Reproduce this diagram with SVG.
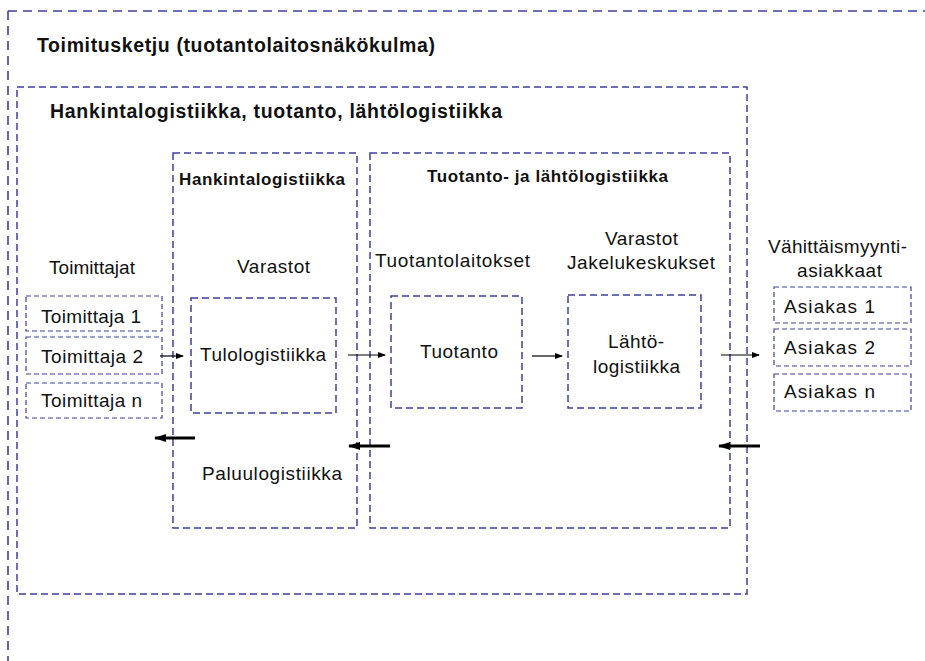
<svg xmlns="http://www.w3.org/2000/svg" width="925" height="661" viewBox="0 0 925 661">
  <style>
    .frame { fill: none; stroke: #3f3f9f; stroke-width: 1.6; stroke-dasharray: 9 6; }
    .box { fill: none; stroke: #3f3f9f; stroke-width: 1.5; stroke-dasharray: 7 4; }
    .small { fill: none; stroke: #3f3f9f; stroke-width: 1.2; stroke-dasharray: 5 3; }
    text { font-family: "Liberation Sans", Arial, sans-serif; fill: #111; }
    .h1 { font-size: 19.5px; font-weight: bold; }
    .h2 { font-size: 17px; font-weight: bold; }
    .lbl { font-size: 19px; }
    .thin { stroke: #000; stroke-width: 1.2; fill: none; }
    .thick { stroke: #000; stroke-width: 3; fill: none; }
  </style>
  <defs>
    <marker id="ah" markerWidth="8" markerHeight="8" refX="7" refY="4" orient="auto" markerUnits="userSpaceOnUse">
      <path d="M0,1 L8,4 L0,7 Z" fill="#000"/>
    </marker>
    <marker id="ahb" markerWidth="12" markerHeight="10" refX="11" refY="5" orient="auto" markerUnits="userSpaceOnUse">
      <path d="M0,1 L12,5 L0,9 Z" fill="#000"/>
    </marker>
  </defs>

  <!-- outer supply-chain frame (open on the right and bottom) -->
  <g id="frame-outer">
    <path class="frame" d="M8,11 H925 M8,11 V661"/>
    <text class="h1" x="37" y="52" textLength="398" lengthAdjust="spacing">Toimitusketju (tuotantolaitosnäkökulma)</text>
  </g>

  <g id="frame-main">
    <rect class="box" x="17" y="87" width="730" height="507"/>
    <text class="h1" x="50" y="118" textLength="452" lengthAdjust="spacing">Hankintalogistiikka, tuotanto, lähtölogistiikka</text>
  </g>

  <g id="suppliers">
    <text class="lbl" x="49" y="274" textLength="86" lengthAdjust="spacing">Toimittajat</text>
    <rect class="small" x="26" y="296" width="136" height="35"/>
    <text class="lbl" x="41" y="323" textLength="100" lengthAdjust="spacing">Toimittaja 1</text>
    <rect class="small" x="26" y="337" width="136" height="37"/>
    <text class="lbl" x="41" y="363" textLength="102" lengthAdjust="spacing">Toimittaja 2</text>
    <rect class="small" x="26" y="383" width="136" height="35"/>
    <text class="lbl" x="41" y="407" textLength="101" lengthAdjust="spacing">Toimittaja n</text>
  </g>

  <g id="inbound">
    <rect class="box" x="173" y="153" width="184" height="375"/>
    <text class="h2" x="179" y="185" textLength="166" lengthAdjust="spacing">Hankintalogistiikka</text>
    <text class="lbl" x="237" y="273" textLength="73" lengthAdjust="spacing">Varastot</text>
    <text class="lbl" x="202" y="480" textLength="140" lengthAdjust="spacing">Paluulogistiikka</text>
  </g>

  <g id="inbound-store">
    <rect class="box" x="191" y="298" width="145" height="115"/>
    <text class="lbl" x="200" y="361" textLength="126" lengthAdjust="spacing">Tulologistiikka</text>
  </g>

  <g id="production-outbound">
    <rect class="box" x="370" y="153" width="360" height="375"/>
    <text class="h2" x="427" y="182" textLength="241" lengthAdjust="spacing">Tuotanto- ja lähtölogistiikka</text>
    <text class="lbl" x="375" y="267" textLength="155" lengthAdjust="spacing">Tuotantolaitokset</text>
    <text class="lbl" x="605" y="245" textLength="73" lengthAdjust="spacing">Varastot</text>
    <text class="lbl" x="567" y="269" textLength="148" lengthAdjust="spacing">Jakelukeskukset</text>
  </g>

  <g id="production">
    <rect class="box" x="391" y="296" width="131" height="112"/>
    <text class="lbl" x="420" y="358" textLength="78" lengthAdjust="spacing">Tuotanto</text>
  </g>

  <g id="outbound">
    <rect class="box" x="568" y="295" width="133" height="113"/>
    <text class="lbl" x="608" y="348" textLength="56" lengthAdjust="spacing">Lähtö-</text>
    <text class="lbl" x="593" y="373" textLength="87" lengthAdjust="spacing">logistiikka</text>
  </g>

  <g id="customers">
    <text class="lbl" x="768" y="253" textLength="139" lengthAdjust="spacing">Vähittäismyynti-</text>
    <text class="lbl" x="797" y="277" textLength="85" lengthAdjust="spacing">asiakkaat</text>
    <rect class="small" x="774" y="287" width="137" height="36"/>
    <text class="lbl" x="784" y="313" textLength="91" lengthAdjust="spacing">Asiakas 1</text>
    <rect class="small" x="774" y="329" width="137" height="37"/>
    <text class="lbl" x="784" y="354" textLength="91" lengthAdjust="spacing">Asiakas 2</text>
    <rect class="small" x="774" y="374" width="137" height="37"/>
    <text class="lbl" x="784" y="398" textLength="91" lengthAdjust="spacing">Asiakas n</text>
  </g>

  <g id="connectors">
    <line class="thin" x1="160" y1="356" x2="183" y2="356" marker-end="url(#ah)"/>
    <line class="thin" x1="348" y1="355" x2="385" y2="355" marker-end="url(#ah)"/>
    <line class="thin" x1="532" y1="356" x2="562" y2="356" marker-end="url(#ah)"/>
    <line class="thin" x1="721" y1="355" x2="759" y2="355" marker-end="url(#ah)"/>
    <line class="thick" x1="195" y1="438" x2="155" y2="438" marker-end="url(#ahb)"/>
    <line class="thick" x1="390" y1="446" x2="349" y2="446" marker-end="url(#ahb)"/>
    <line class="thick" x1="760" y1="446" x2="719" y2="446" marker-end="url(#ahb)"/>
  </g>
</svg>
